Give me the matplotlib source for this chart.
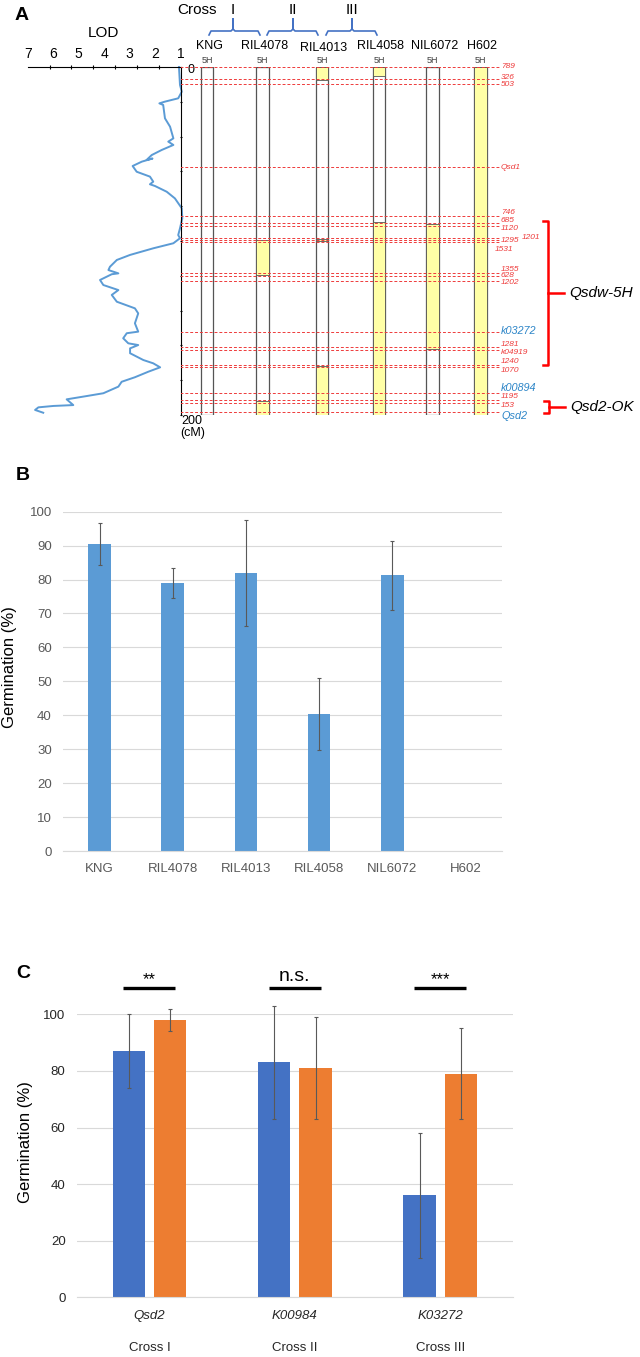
import numpy as np
import matplotlib
matplotlib.use('Agg')
import matplotlib.pyplot as plt
import matplotlib.transforms as mtransforms
from matplotlib.patches import Rectangle

plt.rcParams['font.family'] = ['Liberation Sans', 'DejaVu Sans']

# ---- panel A data ----
lod_cm = [0, 10.3, 14.2, 18.0, 19.9, 20.9, 21.8, 29.5, 34.3, 41.0, 42.9, 44.8, 47.7, 50.6,
          53.4, 52.6, 54.4, 56.9, 60.2, 63.0, 65.9, 67.4, 68.4, 71.7, 75.5, 81.2, 87.0, 92.7,
          96.6, 98.4, 101.3, 104.2, 108.0, 110.9, 114.8, 116.7, 118.6, 119.1, 122.4, 125.3,
          128.2, 131.0, 134.9, 138.7, 141.6, 147.3, 152.1, 153.0, 155.9, 158.8, 159.8, 161.7,
          164.5, 168.4, 170.3, 172.6, 175.1, 178.3, 180.9, 183.7, 187.5, 189.1, 191.0, 194.3,
          194.8, 195.6, 197.1, 198.7]
lod_val = [1.06, 1.02, 0.95, 1.09, 1.61, 1.83, 1.68, 1.61, 1.41, 1.28, 1.48, 1.28, 1.74, 2.13,
           2.33, 2.10, 2.52, 2.88, 2.72, 2.20, 2.07, 2.20, 2.00, 1.54, 1.22, 0.95, 0.93, 1.02,
           1.09, 1.02, 1.28, 2.07, 2.98, 3.50, 3.77, 3.83, 3.44, 3.70, 4.16, 4.03,
           3.44, 3.70, 3.50, 2.79, 2.66, 2.79, 2.66, 3.11, 3.25, 3.05, 2.66, 2.98,
           2.98, 2.46, 2.07, 1.80, 2.26, 2.79, 3.31, 3.44, 4.03, 4.68, 5.47, 5.21,
           5.99, 6.58, 6.71, 6.39]

lines_a = ['KNG', 'RIL4078', 'RIL4013', 'RIL4058', 'NIL6072', 'H602']
chrom_len = 200
# introgressed (yellow) segments per line, cM
segments = [
    [],
    [(99.4, 119.5), (192.0, 200)],
    [(0, 7.5), (98.8, 100.2), (171.6, 200)],
    [(0, 5.3), (89.0, 200)],
    [(90.2, 162.0)],
    [(0, 200)],
]

marker_names = ['789', '326', '503', 'Qsd1', '746', '685', '1120', '1295', '1201', '1531',
                '1355', '628', '1202', 'k03272', '1281', 'k04919', '1240', '1070',
                'k00894', '1195', '153', 'Qsd2']
marker_cm = [0, 6.9, 9.8, 57.5, 85.6, 89.7, 91.4, 98.2, 99.4, 100.6,
             118.6, 120.1, 123.0, 152.3, 160.9, 162.6, 171.3, 172.4,
             187.4, 191.4, 193.1, 198.1]
blue_markers = ['k03272', 'k00894', 'Qsd2']

# ---- panel B data ----
lines_b = ['KNG', 'RIL4078', 'RIL4013', 'RIL4058', 'NIL6072', 'H602']
germ_b = [90.5, 79.0, 82.0, 40.4, 81.2, 0]
err_b = [6.2, 4.3, 15.6, 10.7, 10.3, 0]

# ---- panel C data ----
markers_c = ['Qsd2', 'K00984', 'K03272']
crosses_c = ['Cross I', 'Cross II', 'Cross III']
germ_blue = [87, 83, 36]
err_blue = [13, 20, 22]
germ_orange = [98, 81, 79]
err_orange = [4, 18, 16]
sig_c = ['**', 'n.s.', '***']

W, H = 640, 1357
fig = plt.figure(figsize=(W / 100, H / 100), dpi=100)

def frac(x0, y0, x1, y1):
    # pixel box -> figure fraction
    return [x0 / W, 1 - y1 / H, (x1 - x0) / W, (y1 - y0) / H]

# overlay in pixel coords for panel labels / headers
ov = fig.add_axes([0, 0, 1, 1])
ov.set_xlim(0, W)
ov.set_ylim(H, 0)
ov.axis('off')

for lab, (px, py) in zip(['A', 'B', 'C'], [(15, 15), (16, 475), (16, 974)]):
    ov.text(px, py, lab, fontsize=14, fontweight='bold', ha='left', va='center')

ov.text(103, 33, 'LOD', fontsize=11, ha='center', va='center')
ov.text(187, 70, '0', fontsize=9, ha='left', va='center')
ov.text(181, 421, '200', fontsize=9, ha='left', va='center')
ov.text(180, 433, '(cM)', fontsize=9, ha='left', va='center')

ov.text(197, 10, 'Cross', fontsize=11, ha='center', va='center')
blue_br = '#4472C4'
for name, xa, xm, xb in [('I', 209, 233, 260), ('II', 267, 293, 318), ('III', 326, 352, 377)]:
    ov.text(xm, 10, name, fontsize=11, ha='center', va='center')
    ov.plot([xa, xa + 2, xm - 2, xm, xm, xm, xm + 2, xb - 2, xb],
            [35, 31, 31, 29, 19, 29, 31, 31, 35], color=blue_br, lw=1.2, solid_joinstyle='round')

# ---- LOD axis ----
top_px, bot_px = 67, 415
ax_lod = fig.add_axes(frac(27.7, top_px, 180.5, bot_px))
ax_lod.set_facecolor('none')
ax_lod.plot(lod_val, lod_cm, color='#5B9BD5', lw=1.4, clip_on=False)
ax_lod.set_xlim(7, 1)
ax_lod.set_ylim(chrom_len, 0)
for s in ['left', 'bottom']:
    ax_lod.spines[s].set_visible(False)
for s in ['top', 'right']:
    ax_lod.spines[s].set_linewidth(0.8)
ax_lod.xaxis.tick_top()
ax_lod.set_xticks(range(7, 0, -1))
ax_lod.set_xticklabels([str(v) for v in range(7, 0, -1)], fontsize=10)
ax_lod.set_xticks(np.linspace(7, 1, 8), minor=True)
ax_lod.tick_params(axis='x', which='major', length=0, pad=4)
ax_lod.tick_params(axis='x', which='minor', length=3, direction='inout', width=0.8)
ax_lod.yaxis.tick_right()
ax_lod.set_yticks(range(0, 201, 20))
ax_lod.tick_params(axis='y', length=2, direction='inout', width=0.8, labelright=False)

# ---- chromosomes ----
ax_chr = fig.add_axes(frac(180.5, top_px, 640, bot_px))
ax_chr.set_facecolor('none')
ax_chr.set_xlim(180.5, 640)
ax_chr.set_ylim(chrom_len, 0)
ax_chr.axis('off')

chrom_x = [207, 262.5, 322, 379, 432.5, 480.5]
name_dy = [0, 0, 2.5, 0, 0, 0]
bw = 12.5
yellow = '#FFFFA6'
edge = '#555555'
for xc, name, segs, dy in zip(chrom_x, lines_a, segments, name_dy):
    ax_chr.add_patch(Rectangle((xc - bw / 2, 0), bw, chrom_len, fc='white', ec=edge, lw=0.9, zorder=1))
    for s0, s1 in segs:
        ax_chr.add_patch(Rectangle((xc - bw / 2, s0), bw, s1 - s0, fc=yellow, ec=edge, lw=0.6, zorder=2))
    ax_chr.text(xc + 2, -12.1 + dy / 1.74, name, fontsize=9, ha='center', va='center', clip_on=False)
    ax_chr.text(xc, -4.0, '5H', fontsize=6.5, color='#404040', ha='center', va='center', clip_on=False)

red = '#EE3B3B'
ax_chr.hlines(marker_cm, 180.5, 500, colors=red, linestyles=(0, (3, 2)), lw=0.7, zorder=3)

# label placement (cM of text, x start)
label_cm = [-0.2, 6.3, 10.3, 57.5, 83.9, 88.5, 93.1, 99.8, 98.1, 104.8,
            116.1, 120.1, 124.1, 151.5, 159.2, 163.8, 169.0, 174.7,
            184.5, 189.5, 194.3, 200.4]
label_x = {'1201': 521.7, '1531': 495}
for nm, ly in zip(marker_names, label_cm):
    if nm in blue_markers:
        ax_chr.text(label_x.get(nm, 501), ly, nm, fontsize=7.8, style='italic', color='#2E86C8',
                    ha='left', va='center', clip_on=False)
    else:
        ax_chr.text(label_x.get(nm, 501), ly, nm, fontsize=6, style='italic', color=red,
                    ha='left', va='center', clip_on=False)

# QTL brackets
for (c0, c1), qtl, bx in [((88.5, 171.3), 'Qsdw-5H', 548), ((192.0, 198.9), 'Qsd2-OK', 549)]:
    cm_mid = (c0 + c1) / 2
    ax_chr.plot([bx - 5, bx, bx, bx - 5], [c0, c0, c1, c1], color='red', lw=1.8, clip_on=False)
    ax_chr.plot([bx, bx + 16], [cm_mid, cm_mid], color='red', lw=1.8, clip_on=False)
    ax_chr.text(bx + 21, cm_mid, qtl, fontsize=11, style='italic', ha='left', va='center', clip_on=False)

# ---- panel B ----
axb = fig.add_axes(frac(63, 511.7, 502, 851))
xb = np.arange(len(lines_b))
axb.bar(xb, germ_b, width=0.31, color='#5B9BD5', zorder=2)
has_err = np.array(err_b) > 0
axb.errorbar(xb[has_err], np.array(germ_b)[has_err], yerr=np.array(err_b)[has_err], fmt='none',
             ecolor='#595959', elinewidth=0.8, capsize=1.5, capthick=0.8, zorder=3)
axb.set_xlim(-0.5, len(lines_b) - 0.5)
axb.set_ylim(0, 100)
axb.set_yticks(range(0, 101, 10))
axb.set_xticks(xb)
axb.set_xticklabels(lines_b)
axb.yaxis.grid(True, color='#D9D9D9', lw=0.8)
axb.set_axisbelow(True)
for s in ['top', 'right', 'left']:
    axb.spines[s].set_visible(False)
axb.spines['bottom'].set_color('#D9D9D9')
axb.tick_params(axis='both', length=0, labelsize=9.5, labelcolor='#595959')
axb.tick_params(axis='x', pad=9)
axb.tick_params(axis='y', pad=8)
axb.set_ylabel('Germination (%)', fontsize=12)
axb.yaxis.set_label_coords(-0.105, 0.542)

# ---- panel C ----
axc = fig.add_axes(frac(76.7, 1014.3, 513, 1297.3))
xc = np.arange(len(markers_c))
off, w = 0.142, 0.223
axc.bar(xc - off, germ_blue, width=w, color='#4472C4', zorder=2)
axc.bar(xc + off, germ_orange, width=w, color='#ED7D31', zorder=2)
axc.errorbar(xc - off, germ_blue, yerr=err_blue, fmt='none', ecolor='#595959',
             elinewidth=0.8, capsize=1.5, capthick=0.8, zorder=3, clip_on=False)
axc.errorbar(xc + off, germ_orange, yerr=err_orange, fmt='none', ecolor='#595959',
             elinewidth=0.8, capsize=1.5, capthick=0.8, zorder=3, clip_on=False)
axc.set_xlim(-0.5, len(markers_c) - 0.5)
axc.set_ylim(0, 100)
axc.set_yticks(range(0, 101, 20))
axc.set_xticks(xc)
axc.set_xticklabels(markers_c, style='italic')
axc.yaxis.grid(True, color='#D9D9D9', lw=0.8)
axc.set_axisbelow(True)
for s in ['top', 'right', 'left']:
    axc.spines[s].set_visible(False)
axc.spines['bottom'].set_color('#D9D9D9')
axc.tick_params(axis='both', length=0, labelsize=9.5, labelcolor='#262626')
axc.tick_params(axis='x', pad=9)
axc.tick_params(axis='y', pad=8)
axc.set_ylabel('Germination (%)', fontsize=12)
axc.yaxis.set_label_coords(-0.1, 0.55)

trans = mtransforms.blended_transform_factory(axc.transData, axc.transAxes)
for i, cr in enumerate(crosses_c):
    axc.text(i, -0.179, cr, transform=trans, fontsize=9.5, color='#262626', ha='center', va='center')

for i, sg in enumerate(sig_c):
    axc.plot([i - 0.179, i + 0.179], [109.2, 109.2], color='black', lw=2.4, clip_on=False,
             solid_capstyle='butt')
    if sg == 'n.s.':
        axc.text(i, 110.3, sg, fontsize=14, ha='center', va='bottom', clip_on=False)
    else:
        axc.text(i, 109.5, sg, fontsize=12, ha='center', va='bottom', clip_on=False)

fig.savefig('out.png', dpi=100)
